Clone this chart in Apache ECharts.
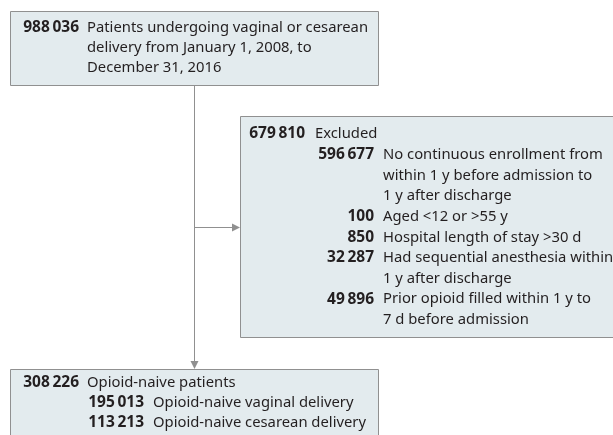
<!DOCTYPE html>
<html>
<head>
<meta charset="utf-8">
<script src="https://cdn.jsdelivr.net/npm/echarts@6/dist/echarts.min.js"></script>
<style>
  html, body { margin: 0; padding: 0; background: #fff; }
  #main { width: 613px; height: 435px; }
</style>
</head>
<body>
<div id="main"></div>
<script>
// flowchart data
var rootCount = 988036;
var rootLabel = ['Patients undergoing vaginal or cesarean', 'delivery from January 1, 2008, to', 'December 31, 2016'];

var excludedCount = 679810;
var excludedLabel = 'Excluded';
var exclusionCounts = [596677, 100, 850, 32287, 49896];
var exclusionLabels = [
    ['No continuous enrollment from', 'within 1 y before admission to', '1 y after discharge'],
    ['Aged <12 or >55 y'],
    ['Hospital length of stay >30 d'],
    ['Had sequential anesthesia within', '1 y after discharge'],
    ['Prior opioid filled within 1 y to', '7 d before admission']
];

var cohortCount = 308226;
var cohortLabel = 'Opioid-naive patients';
var subgroupCounts = [195013, 113213];
var subgroupLabels = [['Opioid-naive vaginal delivery'], ['Opioid-naive cesarean delivery']];

// 千位用细空格分隔（5位以上）
function fmt(n) {
    var s = String(n);
    if (s.length < 5) return s;
    return s.replace(/\B(?=(\d{3})+(?!\d))/g, '\u2009');
}

var FONT = '"Noto Sans", sans-serif';
var FS = 14.8;
var NFS = 15.5;
var LH = 20;
var TXT = '#231f20';
var FILL = '#e3ebee';
var BORDER = '#909090';
var LINE = '#909090';

var elements = [];

function box(x, y, w, h) {
    elements.push({
        type: 'rect',
        shape: { x: x + 0.5, y: y + 0.5, width: w, height: h },
        style: { fill: FILL, stroke: BORDER, lineWidth: 1 }
    });
}

function num(n, x, y) {
    elements.push({
        type: 'text', x: x, y: y,
        style: { text: fmt(n), font: 'bold ' + NFS + 'px ' + FONT, fill: TXT, align: 'right', verticalAlign: 'middle' }
    });
}

function label(t, x, y) {
    elements.push({
        type: 'text', x: x, y: y,
        style: { text: t, font: FS + 'px ' + FONT, fill: TXT, align: 'left', verticalAlign: 'middle' }
    });
}

function seg(x1, y1, x2, y2) {
    elements.push({
        type: 'line',
        shape: { x1: x1, y1: y1, x2: x2, y2: y2 },
        style: { stroke: LINE, lineWidth: 1 }
    });
}

function arrowHead(pts) {
    elements.push({ type: 'polygon', shape: { points: pts }, style: { fill: LINE } });
}

// 连接线
var lx = 194.5;
seg(lx, 86, lx, 362);
arrowHead([[lx - 4, 361], [lx + 4, 361], [lx, 369]]);
seg(lx, 227.5, 234, 227.5);
arrowHead([[232, 223.5], [232, 231.5], [240, 227.5]]);

// 第一个框
box(10, 11, 368, 74);
num(rootCount, 79, 28);
rootLabel.forEach(function (t, i) { label(t, 87, 28 + i * LH); });

// 排除框
box(240, 116, 400, 221);
num(excludedCount, 305, 134);
label(excludedLabel, 315, 134);
var y = 155;
exclusionCounts.forEach(function (c, i) {
    num(c, 374, y);
    exclusionLabels[i].forEach(function (t) {
        label(t, 383, y);
        y += 20.6;
    });
});

// 最终队列
box(10, 369, 368, 90);
num(cohortCount, 79, 383);
label(cohortLabel, 87, 383);
subgroupCounts.forEach(function (c, i) {
    var yy = 383 + (i + 1) * LH;
    num(c, 144, yy);
    label(subgroupLabels[i][0], 153, yy);
});

var myChart = echarts.init(document.getElementById('main'));
myChart.setOption({
    animation: false,
    graphic: { elements: elements }
});
</script>
</body>
</html>
